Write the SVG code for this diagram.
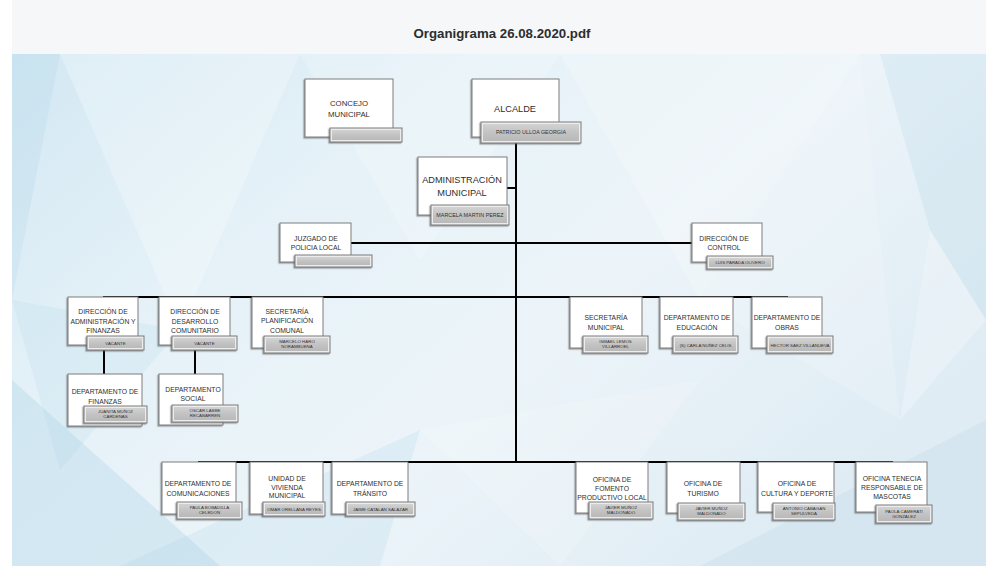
<svg xmlns="http://www.w3.org/2000/svg" width="986" height="566" viewBox="0 0 986 566">
<defs>
<linearGradient id="bg" x1="0" y1="0" x2="1" y2="0.6">
<stop offset="0" stop-color="#d3e8f3"/>
<stop offset="0.35" stop-color="#e6f2f8"/>
<stop offset="0.65" stop-color="#ecf4f9"/>
<stop offset="1" stop-color="#dfecf4"/>
</linearGradient>
<linearGradient id="tabg" x1="0" y1="0" x2="0" y2="1">
<stop offset="0" stop-color="#d2d2d2"/>
<stop offset="0.5" stop-color="#c3c3c3"/>
<stop offset="1" stop-color="#b9b9b9"/>
</linearGradient>
<filter id="sh" x="-10%" y="-10%" width="120%" height="130%">
<feDropShadow dx="-1.2" dy="1.2" stdDeviation="0.7" flood-color="#555" flood-opacity="0.55"/>
</filter>
<style>
.box{fill:#ffffff;stroke:#7d7d7d;stroke-width:1;filter:url(#sh)}
.tab{fill:#ececec;stroke:#7a7a7a;stroke-width:1;filter:url(#sh)}
.tabi{fill:url(#tabg);stroke:none}
.t{font-family:"Liberation Sans",Arial,sans-serif;font-size:6.8px;fill:#2e2e2e;text-anchor:middle}
.tl{font-family:"Liberation Sans",Arial,sans-serif;font-size:9.2px;fill:#2e2e2e;text-anchor:middle}
.tm{font-family:"Liberation Sans",Arial,sans-serif;font-size:7.8px;fill:#2e2e2e;text-anchor:middle}
.n{font-family:"Liberation Sans",Arial,sans-serif;font-size:4.4px;fill:#333333;text-anchor:middle}
.nl{font-family:"Liberation Sans",Arial,sans-serif;font-size:5.4px;fill:#333333;text-anchor:middle}
.c{stroke:#000000;stroke-width:2;fill:none}
.facet{fill:#ffffff}
.facetb{fill:#9fcbe3}
</style>
</defs>

<rect x="0" y="0" width="986" height="566" fill="#ffffff"/>
<rect x="12" y="0" width="974" height="54" fill="#f5f7f9"/>
<text x="502" y="38" font-family="'Liberation Sans',Arial,sans-serif" font-size="13.5" font-weight="bold" fill="#2d2d2d" text-anchor="middle" textLength="177" lengthAdjust="spacingAndGlyphs">Organigrama 26.08.2020.pdf</text>

<g id="background">
<rect x="12" y="54" width="974" height="512" fill="url(#bg)"/>
<polygon class="facet" opacity="0.25" points="60,54 300,54 180,330"/>
<polygon class="facet" opacity="0.18" points="300,54 560,54 420,260"/>
<polygon class="facet" opacity="0.22" points="560,54 860,54 700,300"/>
<polygon class="facetb" opacity="0.18" points="12,54 60,54 12,300"/>
<polygon class="facetb" opacity="0.28" points="12,380 220,566 12,566"/>
<polygon class="facetb" opacity="0.18" points="120,566 420,430 380,566"/>
<polygon class="facet" opacity="0.18" points="420,430 700,380 560,566"/>
<polygon class="facetb" opacity="0.15" points="700,566 986,420 986,566"/>
<polygon class="facetb" opacity="0.18" points="880,54 986,54 986,320 930,230"/>
<polygon class="facet" opacity="0.22" points="930,230 986,320 900,420"/>
<polygon class="facetb" opacity="0.14" points="12,300 180,330 60,470"/>
<polygon class="facet" opacity="0.15" points="700,300 860,54 900,420"/>
</g>

<g id="connectors">
<line class="c" x1="516" y1="143" x2="516" y2="463"/>
<line class="c" x1="507" y1="188" x2="516" y2="188"/>
<line class="c" x1="351" y1="243" x2="692" y2="243"/>
<line class="c" x1="103" y1="297" x2="788" y2="297"/>
<line class="c" x1="198" y1="462" x2="893" y2="462"/>
<line class="c" x1="104" y1="350" x2="104" y2="374"/>
<line class="c" x1="195" y1="350" x2="195" y2="374"/>
</g>

<g id="concejo">
<rect class="box" x="305" y="79" width="88" height="58"/>
<text class="tm" x="349" y="106">CONCEJO</text>
<text class="tm" x="349" y="117">MUNICIPAL</text>
<rect class="tab" x="330" y="128" width="72" height="14"/>
<rect class="tabi" x="332" y="130" width="68" height="10"/>
</g>

<g id="alcalde">
<rect class="box" x="472" y="79" width="87" height="58"/>
<text class="tl" x="515" y="112">ALCALDE</text>
<rect class="tab" x="481" y="122" width="100" height="21"/>
<rect class="tabi" x="483" y="124" width="96" height="17"/>
<text class="nl" x="531" y="134">PATRICIO ULLOA GEORGIA</text>
</g>

<g id="administracion">
<rect class="box" x="418" y="157" width="89" height="58"/>
<text class="tl" x="462" y="183">ADMINISTRACIÓN</text>
<text class="tl" x="462" y="196">MUNICIPAL</text>
<rect class="tab" x="431" y="205" width="78" height="20"/>
<rect class="tabi" x="433" y="207" width="74" height="16"/>
<text class="nl" x="470" y="217">MARCELA MARTIN PEREZ</text>
</g>

<g id="juzgado">
<rect class="box" x="280" y="223" width="71" height="39"/>
<text class="t" x="316" y="241">JUZGADO DE</text>
<text class="t" x="316" y="250">POLICIA LOCAL</text>
<rect class="tab" x="295" y="255" width="77" height="12"/>
<rect class="tabi" x="297" y="257" width="73" height="8"/>
</g>

<g id="control">
<rect class="box" x="692" y="223" width="70" height="39"/>
<text class="t" x="724" y="241">DIRECCIÓN DE</text>
<text class="t" x="724" y="250">CONTROL</text>
<rect class="tab" x="707" y="256" width="66" height="13"/>
<rect class="tabi" x="709" y="258" width="62" height="9"/>
<text class="n" x="740" y="264">LUIS PARADA OLIVERO</text>
</g>

<g id="dir-administracion-finanzas">
<rect class="box" x="68" y="297" width="70" height="48"/>
<text class="t" x="103" y="314">DIRECCIÓN DE</text>
<text class="t" x="103" y="323.5">ADMINISTRACIÓN Y</text>
<text class="t" x="103" y="332.5">FINANZAS</text>
<rect class="tab" x="87" y="336" width="57" height="14"/>
<rect class="tabi" x="89" y="338" width="53" height="10"/>
<text class="n" x="115.5" y="344.5">VACANTE</text>
</g>

<g id="dir-desarrollo-comunitario">
<rect class="box" x="159" y="297" width="71" height="48"/>
<text class="t" x="195" y="314">DIRECCIÓN DE</text>
<text class="t" x="195" y="323.5">DESARROLLO</text>
<text class="t" x="195" y="332.5">COMUNITARIO</text>
<rect class="tab" x="172" y="336" width="65" height="14"/>
<rect class="tabi" x="174" y="338" width="61" height="10"/>
<text class="n" x="204.5" y="344.5">VACANTE</text>
</g>

<g id="secretaria-planificacion">
<rect class="box" x="252" y="297" width="71" height="51"/>
<text class="t" x="287" y="314">SECRETARÍA</text>
<text class="t" x="287" y="322.5">PLANIFICACIÓN</text>
<text class="t" x="287" y="332.5">COMUNAL</text>
<rect class="tab" x="264" y="336" width="66" height="17"/>
<rect class="tabi" x="266" y="338" width="62" height="13"/>
<text class="n" x="297" y="343">MARCELO HARO</text>
<text class="n" x="297" y="348">NORAMBUENA</text>
</g>

<g id="depto-finanzas">
<rect class="box" x="68" y="374" width="74" height="52"/>
<text class="t" x="105" y="394">DEPARTAMENTO DE</text>
<text class="t" x="105" y="403.5">FINANZAS</text>
<rect class="tab" x="84" y="406" width="63" height="17"/>
<rect class="tabi" x="86" y="408" width="59" height="13"/>
<text class="n" x="115.5" y="413">JUANITA MUÑOZ</text>
<text class="n" x="115.5" y="418">CARDENAS</text>
</g>

<g id="depto-social">
<rect class="box" x="159" y="374" width="64" height="51"/>
<text class="t" x="193" y="391.5">DEPARTAMENTO</text>
<text class="t" x="193" y="401">SOCIAL</text>
<rect class="tab" x="172" y="405" width="66" height="17"/>
<rect class="tabi" x="174" y="407" width="62" height="13"/>
<text class="n" x="205" y="412">OSCAR LABBE</text>
<text class="n" x="205" y="417">RECABARREN</text>
</g>

<g id="secretaria-municipal">
<rect class="box" x="570" y="297" width="72" height="51"/>
<text class="t" x="606" y="320">SECRETARÍA</text>
<text class="t" x="606" y="330">MUNICIPAL</text>
<rect class="tab" x="583" y="336" width="65" height="17"/>
<rect class="tabi" x="585" y="338" width="61" height="13"/>
<text class="n" x="615.5" y="343">ISMAEL LEMOS</text>
<text class="n" x="615.5" y="348">VILLARROEL</text>
</g>

<g id="depto-educacion">
<rect class="box" x="660" y="297" width="73" height="51"/>
<text class="t" x="697" y="320">DEPARTAMENTO DE</text>
<text class="t" x="697" y="330">EDUCACIÓN</text>
<rect class="tab" x="673" y="336" width="65" height="17"/>
<rect class="tabi" x="675" y="338" width="61" height="13"/>
<text class="n" x="705.5" y="346.5">(S) CARLA NUÑEZ CELIS</text>
</g>

<g id="depto-obras">
<rect class="box" x="752" y="297" width="70" height="51"/>
<text class="t" x="787" y="320">DEPARTAMENTO DE</text>
<text class="t" x="787" y="330">OBRAS</text>
<rect class="tab" x="767" y="336" width="66" height="17"/>
<rect class="tabi" x="769" y="338" width="62" height="13"/>
<text class="n" x="800" y="346.5">HECTOR SAEZ VILLANUEVA</text>
</g>

<g id="depto-comunicaciones">
<rect class="box" x="162" y="462" width="74" height="52"/>
<text class="t" x="198" y="486">DEPARTAMENTO DE</text>
<text class="t" x="198" y="495.5">COMUNICACIONES</text>
<rect class="tab" x="177" y="502" width="65" height="17"/>
<rect class="tabi" x="179" y="504" width="61" height="13"/>
<text class="n" x="209.5" y="509">PAULA BOBADILLA</text>
<text class="n" x="209.5" y="514">CELEDON</text>
</g>

<g id="unidad-vivienda">
<rect class="box" x="250" y="462" width="73" height="52"/>
<text class="t" x="287" y="481">UNIDAD DE</text>
<text class="t" x="287" y="489.5">VIVIENDA</text>
<text class="t" x="287" y="498">MUNICIPAL</text>
<rect class="tab" x="263" y="502" width="62" height="14"/>
<rect class="tabi" x="265" y="504" width="58" height="10"/>
<text class="n" x="294" y="510.5">OMAR ORELLANA REYES</text>
</g>

<g id="depto-transito">
<rect class="box" x="332" y="462" width="76" height="52"/>
<text class="t" x="370" y="486">DEPARTAMENTO DE</text>
<text class="t" x="370" y="495.5">TRÁNSITO</text>
<rect class="tab" x="346" y="502" width="69" height="14"/>
<rect class="tabi" x="348" y="504" width="65" height="10"/>
<text class="n" x="380.5" y="510.5">JAIME CATALAN SALAZAR</text>
</g>

<g id="oficina-fomento">
<rect class="box" x="576" y="462" width="72" height="51"/>
<text class="t" x="612" y="482">OFICINA DE</text>
<text class="t" x="612" y="490.5">FOMENTO</text>
<text class="t" x="612" y="500">PRODUCTIVO LOCAL</text>
<rect class="tab" x="589" y="502" width="64" height="17"/>
<rect class="tabi" x="591" y="504" width="60" height="13"/>
<text class="n" x="621" y="509">JAVIER MUÑOZ</text>
<text class="n" x="621" y="514">MALDONADO</text>
</g>

<g id="oficina-turismo">
<rect class="box" x="667" y="462" width="73" height="51"/>
<text class="t" x="703" y="486">OFICINA DE</text>
<text class="t" x="703" y="495.5">TURISMO</text>
<rect class="tab" x="678" y="503" width="67" height="17"/>
<rect class="tabi" x="680" y="505" width="63" height="13"/>
<text class="n" x="711.5" y="510">JAVIER MUÑOZ</text>
<text class="n" x="711.5" y="515">MALDONADO</text>
</g>

<g id="oficina-cultura">
<rect class="box" x="758" y="462" width="76" height="50"/>
<text class="t" x="797" y="486">OFICINA DE</text>
<text class="t" x="797" y="495.5">CULTURA Y DEPORTE</text>
<rect class="tab" x="773" y="503" width="62" height="17"/>
<rect class="tabi" x="775" y="505" width="58" height="13"/>
<text class="n" x="804" y="510">ANTONIO CABAGAN</text>
<text class="n" x="804" y="515">SEPULVEDA</text>
</g>

<g id="oficina-mascotas">
<rect class="box" x="856" y="462" width="71" height="50"/>
<text class="t" x="892" y="481">OFICINA TENECIA</text>
<text class="t" x="892" y="490">RESPONSABLE DE</text>
<text class="t" x="892" y="499">MASCOTAS</text>
<rect class="tab" x="876" y="505" width="56" height="18"/>
<rect class="tabi" x="878" y="507" width="52" height="14"/>
<text class="n" x="904" y="512.5">PAOLA CAMERATI</text>
<text class="n" x="904" y="517.5">GONZALEZ</text>
</g>
</svg>
